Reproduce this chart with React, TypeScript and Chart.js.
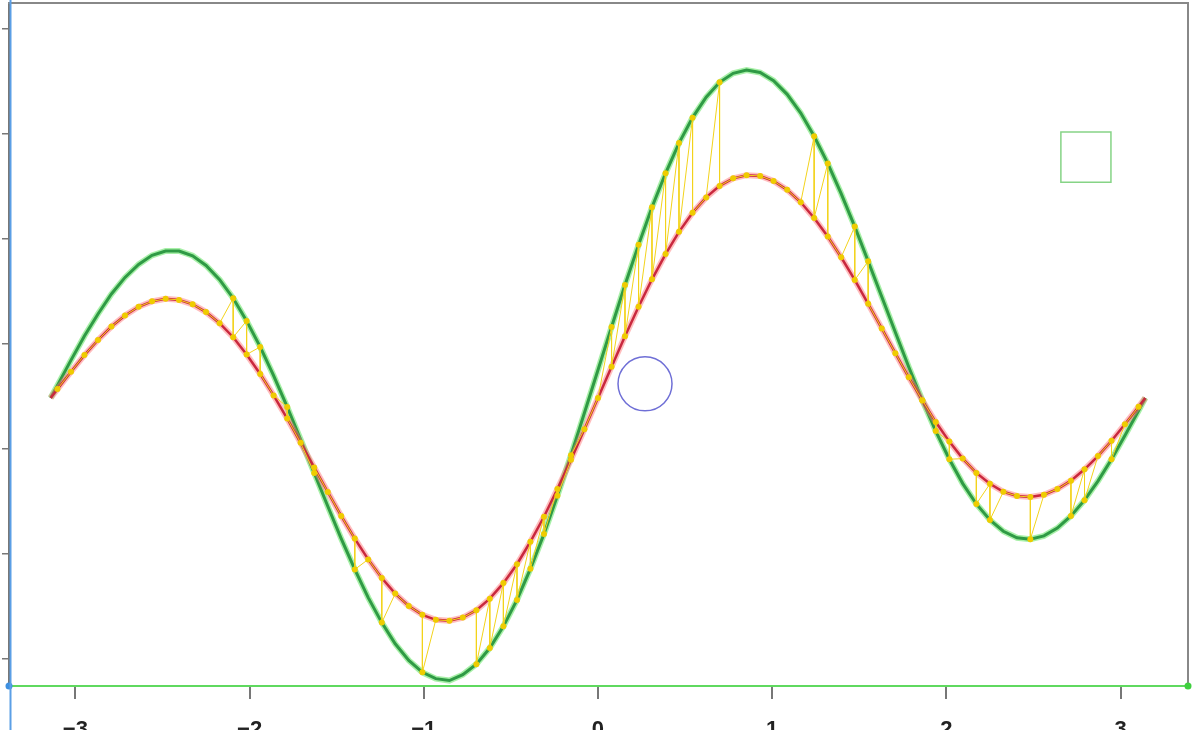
import React, { useEffect, useRef } from "react";
import { Chart, registerables } from "chart.js";

Chart.register(...registerables);

// sample x positions (radians)
const xs = [
  -3.142, -3.103, -3.025, -2.948, -2.870, -2.793, -2.715, -2.637, -2.560, -2.482, -2.405,
  -2.327, -2.250, -2.172, -2.094, -2.017, -1.939, -1.862, -1.784, -1.707, -1.629,
  -1.551, -1.474, -1.396, -1.319, -1.241, -1.164, -1.086, -1.008, -0.931, -0.853,
  -0.776, -0.698, -0.621, -0.543, -0.465, -0.388, -0.310, -0.233, -0.155, -0.078,
  0,
  0.078, 0.155, 0.233, 0.310, 0.388, 0.465, 0.543, 0.621, 0.698, 0.776,
  0.853, 0.931, 1.008, 1.086, 1.164, 1.241, 1.319, 1.396, 1.474, 1.551,
  1.629, 1.707, 1.784, 1.862, 1.939, 2.017, 2.094, 2.172, 2.250, 2.327,
  2.405, 2.482, 2.560, 2.637, 2.715, 2.793, 2.870, 2.948, 3.025, 3.103, 3.142,
];

// green curve values
const greenVals = [
  -0.257,
  -0.197, -0.077, 0.038, 0.143, 0.238, 0.317, 0.379, 0.422, 0.443, 0.443,
  0.420, 0.374, 0.306, 0.218, 0.110, -0.014, -0.151, -0.300, -0.455, -0.614,
  -0.773, -0.927, -1.074, -1.208, -1.327, -1.428, -1.507, -1.564, -1.594, -1.603,
  -1.575, -1.525, -1.448, -1.345, -1.219, -1.071, -0.905, -0.723, -0.530, -0.329,
  -0.124,
  0.081, 0.281, 0.472, 0.651, 0.813, 0.957, 1.078, 1.175, 1.246, 1.289,
  1.305, 1.293, 1.254, 1.189, 1.100, 0.989, 0.860, 0.716, 0.559, 0.394,
  0.225, 0.056, -0.110, -0.268, -0.415, -0.549, -0.665, -0.762, -0.838, -0.892,
  -0.923, -0.930, -0.914, -0.877, -0.819, -0.744, -0.653, -0.549, -0.436, -0.318,
  -0.257,
];

// red curve values
const redVals = [
  -0.257,
  -0.215, -0.132, -0.053, 0.019, 0.083, 0.136, 0.177, 0.203, 0.215, 0.210,
  0.189, 0.152, 0.099, 0.032, -0.050, -0.143, -0.245, -0.355, -0.471, -0.588,
  -0.705, -0.819, -0.927, -1.026, -1.115, -1.189, -1.248, -1.290, -1.314, -1.318,
  -1.303, -1.268, -1.213, -1.139, -1.049, -0.942, -0.823, -0.691, -0.552, -0.406,
  -0.257,
  -0.108, 0.037, 0.177, 0.308, 0.428, 0.534, 0.625, 0.698, 0.753, 0.789,
  0.804, 0.800, 0.776, 0.734, 0.675, 0.600, 0.512, 0.413, 0.305, 0.191,
  0.074, -0.044, -0.159, -0.269, -0.372, -0.465, -0.546, -0.614, -0.666, -0.704,
  -0.724, -0.729, -0.718, -0.691, -0.651, -0.597, -0.534, -0.461, -0.382, -0.299,
  -0.257,
];

// indices where the yellow path visits the green curve
const jumpsBefore = [14, 15, 16, 18, 20, 42, 43, 44, 45, 46, 47, 48, 50, 57, 58, 60, 61];
const jumpsAfter = [23, 25, 28, 32, 33, 34, 35, 36, 37, 38, 39, 65, 66, 67, 69, 70, 73, 76, 77, 79];

// markers
const circleMark = [{ x: 0.27, y: -0.19 }];
const squareMark = [{ x: 2.801, y: 0.89 }];

const xTicks = [-3, -2, -1, 0, 1, 2, 3];

const XMIN = -3.381;
const XMAX = 3.387;
const YMIN = -1.629;
const YMAX = 1.624;

function buildYellow() {
  const pts: { x: number; y: number }[] = [];
  for (let i = 1; i < xs.length - 1; i++) {
    if (jumpsBefore.includes(i)) {
      pts.push({ x: xs[i], y: greenVals[i] });
      pts.push({ x: xs[i], y: redVals[i] });
    } else if (jumpsAfter.includes(i)) {
      pts.push({ x: xs[i], y: redVals[i] });
      pts.push({ x: xs[i], y: greenVals[i] });
    } else {
      pts.push({ x: xs[i], y: redVals[i] });
    }
  }
  return pts;
}

const leftRule = {
  id: "leftRule",
  afterDatasetsDraw(chart: any) {
    const { ctx, chartArea } = chart;
    ctx.save();
    ctx.strokeStyle = "#5b9fe6";
    ctx.lineWidth = 2;
    ctx.beginPath();
    ctx.moveTo(chartArea.left + 1.5, 0);
    ctx.lineTo(chartArea.left + 1.5, chart.height);
    ctx.stroke();
    ctx.restore();
  },
};

export default function App() {
  const ref = useRef<HTMLCanvasElement | null>(null);

  useEffect(() => {
    if (!ref.current) return;
    const green = xs.map((x, i) => ({ x, y: greenVals[i] }));
    const red = xs.map((x, i) => ({ x, y: redVals[i] }));
    const yellow = buildYellow();

    const chart = new Chart(ref.current, {
      type: "scatter",
      data: {
        datasets: [
          {
            data: yellow,
            showLine: true,
            borderColor: "#f3d31c",
            borderWidth: 1,
            pointRadius: 3,
            pointBackgroundColor: "#efcc00",
            pointBorderWidth: 0,
            order: 1,
          },
          {
            data: [
              { x: XMIN, y: YMIN },
              { x: XMAX, y: YMIN },
            ],
            showLine: true,
            borderColor: "#5fd95f",
            borderWidth: 2,
            pointRadius: 3.5,
            pointBorderWidth: 0,
            pointBackgroundColor: ["#3d8fe0", "#3fcf3f"],
            clip: false,
            order: 2,
          },
          {
            data: red,
            showLine: true,
            borderColor: "#c9283e",
            borderWidth: 2.5,
            pointRadius: 0,
            order: 3,
          },
          {
            data: red,
            showLine: true,
            borderColor: "rgba(255,110,110,0.45)",
            borderWidth: 6,
            pointRadius: 0,
            order: 4,
          },
          {
            data: green,
            showLine: true,
            borderColor: "#2f9a45",
            borderWidth: 3,
            pointRadius: 0,
            order: 5,
          },
          {
            data: green,
            showLine: true,
            borderColor: "rgba(110,230,110,0.6)",
            borderWidth: 6,
            pointRadius: 0,
            order: 6,
          },
          {
            data: circleMark,
            pointRadius: 27,
            pointBorderColor: "#6f6fd6",
            pointBackgroundColor: "rgba(0,0,0,0)",
            pointBorderWidth: 1.5,
            order: 0,
          },
          {
            data: squareMark,
            pointStyle: "rect",
            pointRadius: 35.4,
            pointBorderColor: "#86d486",
            pointBackgroundColor: "rgba(0,0,0,0)",
            pointBorderWidth: 1.5,
            order: 0,
          },
        ],
      },
      options: {
        animation: false,
        responsive: false,
        events: [],
        layout: { autoPadding: false, padding: { top: 3, right: 4, left: 0, bottom: 0 } },
        plugins: { legend: { display: false }, tooltip: { enabled: false } },
        scales: {
          x: {
            type: "linear",
            position: "bottom",
            min: XMIN,
            max: XMAX,
            afterFit: (s: any) => {
              s.height = 84;
            },
            afterBuildTicks: (s: any) => {
              s.ticks = xTicks.map((v) => ({ value: v }));
            },
            ticks: {
              color: "#222",
              padding: 18,
              font: { family: "Liberation Sans", size: 22, weight: "bold" },
              callback: (v: any) => (v < 0 ? "\u2212" + Math.abs(v) : String(v)),
            },
            grid: { drawOnChartArea: false, color: "#777", lineWidth: 2, tickLength: 13 },
            border: { color: "#777", width: 2 },
          },
          y: {
            type: "linear",
            position: "left",
            min: YMIN,
            max: YMAX,
            afterFit: (s: any) => {
              s.width = 9;
            },
            ticks: { display: false, stepSize: 0.5, includeBounds: false },
            grid: { drawOnChartArea: false, color: "#777", lineWidth: 1.5, tickLength: 7 },
            border: { color: "#777", width: 2 },
          },
          x2: {
            type: "linear",
            position: "top",
            min: XMIN,
            max: XMAX,
            afterFit: (s: any) => {
              s.height = 0;
            },
            ticks: { display: false },
            grid: { display: false },
            border: { color: "#888", width: 2 },
          },
          y2: {
            type: "linear",
            position: "right",
            min: YMIN,
            max: YMAX,
            afterFit: (s: any) => {
              s.width = 0;
            },
            ticks: { display: false },
            grid: { display: false },
            border: { color: "#888", width: 2 },
          },
        },
      },
      plugins: [leftRule],
    });
    return () => chart.destroy();
  }, []);

  return (
    <div
      style={{
        position: "fixed",
        left: 0,
        top: 0,
        width: 1192,
        height: 730,
        overflow: "hidden",
        background: "#fff",
      }}
    >
      <canvas ref={ref} width={1192} height={770} style={{ display: "block" }} />
    </div>
  );
}
